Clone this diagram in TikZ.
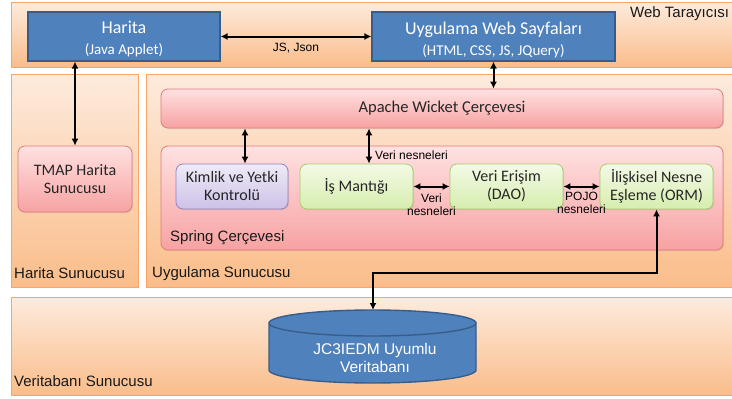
\documentclass[tikz,border=0pt]{standalone}
\usepackage{fontspec}
\setmainfont{Carlito}
\newfontfamily\arialfont{Liberation Sans}
\usetikzlibrary{arrows.meta,shadows}
\definecolor{panelTop}{HTML}{FDEBDD}
\definecolor{panelBot}{HTML}{FABD8A}
\definecolor{panelLine}{HTML}{F6A66B}
\definecolor{blueFill}{HTML}{4F81BD}
\definecolor{blueLine}{HTML}{385D8A}
\definecolor{pinkTop}{HTML}{FFE1E1}
\definecolor{pinkBot}{HTML}{F7A2A2}
\definecolor{pinkLine}{HTML}{E07B7B}
\definecolor{greenTop}{HTML}{F3FAE6}
\definecolor{greenBot}{HTML}{D6EDAE}
\definecolor{greenLine}{HTML}{A9CB6C}
\definecolor{purpleTop}{HTML}{EFEBF7}
\definecolor{purpleBot}{HTML}{CDC1E8}
\definecolor{purpleLine}{HTML}{9580BE}
\begin{document}
\begin{tikzpicture}[x=1pt,y=-1pt]
		\tikzset{
		panel/.style={draw=panelLine,top color=panelTop,bottom color=panelBot,line width=0.8pt,inner sep=0pt,
			drop shadow={opacity=0.2,shadow xshift=1.2pt,shadow yshift=-1.2pt}},
		bluebox/.style={draw=blueLine,fill=blueFill,line width=1.2pt,inner sep=0pt},
		bluetext/.style={text=white,align=center,inner sep=0pt,yshift=-3pt,font=\fontsize{15}{21}\selectfont},
		pinkbox/.style={draw=pinkLine,top color=pinkTop,bottom color=pinkBot,rounded corners=7pt,line width=0.8pt,
			align=center,inner sep=0pt,font=\fontsize{16}{18}\selectfont,text=black!85,
			drop shadow={opacity=0.2,shadow xshift=1pt,shadow yshift=-1pt}},
		greenbox/.style={pinkbox,draw=greenLine,top color=greenTop,bottom color=greenBot,
			minimum width=113,minimum height=45},
		lbl/.style={font=\arialfont\fontsize{15}{18}\selectfont,inner sep=0pt,text=black!90},
		small/.style={font=\arialfont\fontsize{12}{13}\selectfont,inner sep=0pt,align=center},
		dbl/.style={line width=2pt,{Latex[length=7pt,width=7pt]}-{Latex[length=7pt,width=7pt]}}
		}
		\useasboundingbox (0,0) rectangle (732,399);
		% katmanlar
		\node[panel,minimum width=729,minimum height=65] (web) at (375.5,34.5) {};
		\node[panel,minimum width=127,minimum height=213] (hsun) at (74.5,180.5) {};
		\node[panel,minimum width=594,minimum height=213] (usun) at (443,180.5) {};
		\node[panel,minimum width=729,minimum height=98] (vsun) at (375.5,346) {};
		\node[lbl,anchor=west] (webl) at (630,14) {Web Tarayıcısı};
		\node[lbl,anchor=west] (hsunl) at (14,273) {Harita Sunucusu};
		\node[lbl,anchor=west] (usunl) at (152,274) {Uygulama Sunucusu};
		\node[lbl,anchor=west] (vsunl) at (14,381) {Veritabanı Sunucusu};
		% web tarayicisi
		\node[bluebox,minimum width=192,minimum height=49,
		label={[bluetext]center:{{\fontsize{18}{20}\selectfont Harita}\\(Java Applet)}}] (harita) at (124,36.5) {};
		\node[bluebox,minimum width=243,minimum height=49,
		label={[bluetext]center:{{\fontsize{18}{20}\selectfont Uygulama Web Sayfaları}\\(HTML, CSS, JS, JQuery)}}] (uweb) at (493.5,36.5) {};
		% uygulama sunucusu
		\node[pinkbox,minimum width=114,minimum height=66] (tmap) at (75,179) {TMAP Harita\\Sunucusu};
		\node[pinkbox,minimum width=562,minimum height=39,font=\fontsize{16.5}{18}\selectfont] (wicket) at (442,108.5) {Apache Wicket Çerçevesi};
		\node[pinkbox,minimum width=562,minimum height=104] (spring) at (442,198) {};
		\node[lbl,anchor=west] (springl) at (170,238) {Spring Çerçevesi};
		\node[greenbox,draw=purpleLine,top color=purpleTop,bottom color=purpleBot,minimum width=112] (kimlik) at (232,186.5)
		{Kimlik ve Yetki\\Kontrolü};
		\node[greenbox] (is) at (356.5,186.5) {İş Mantığı};
		\node[greenbox] (dao) at (506.5,186.5) {Veri Erişim\\(DAO)};
		\node[greenbox] (orm) at (656.5,186.5) {İlişkisel Nesne\\Eşleme (ORM)};
		% veritabani
		\fill[blueFill] (269,323) -- (269,370) arc[start angle=180,end angle=0,x radius=103.5,y radius=13]
		-- (476,323) arc[start angle=0,end angle=-180,x radius=103.5,y radius=13] -- cycle;
		\draw[blueLine,line width=1.4pt] (269,323) -- (269,370) arc[start angle=180,end angle=0,x radius=103.5,y radius=13]
		-- (476,323) (372.5,323) ellipse[x radius=103.5,y radius=13];
		\node[font=\arialfont\fontsize{15.5}{18}\selectfont,text=white,align=center] (db) at (375,358) {JC3IEDM Uyumlu\\Veritabanı};
		\coordinate (dbtop) at (373,310);
		\coordinate (bend) at (373,273);
		% baglantilar
		\draw[dbl] (harita.east) -- (uweb.west) node[small,midway,below=6pt] (jsl) {JS, Json};
		\draw[dbl] (tmap.north) -- (tmap.north |- harita.south);
		\draw[dbl] (uweb.south) -- (uweb.south |- wicket.north);
		\draw[dbl] ([xshift=13pt]kimlik.north) -- ([xshift=13pt]kimlik.north |- wicket.south);
		\draw[dbl] ([xshift=12.5pt]is.north) -- ([xshift=12.5pt]is.north |- wicket.south);
		\node[small,anchor=west] (veril) at (375,155) {Veri nesneleri};
		\draw[dbl] (is.east) -- (dao.west) node[small,midway,below=6pt] (veri2) {Veri\\nesneleri};
		\draw[dbl] (dao.east) -- (orm.west) node[small,midway,below=5pt] (pojo) {POJO\\nesneleri};
		\draw[dbl] (orm.south) |- (bend) -- (dbtop);
	\end{tikzpicture}
\end{document}
